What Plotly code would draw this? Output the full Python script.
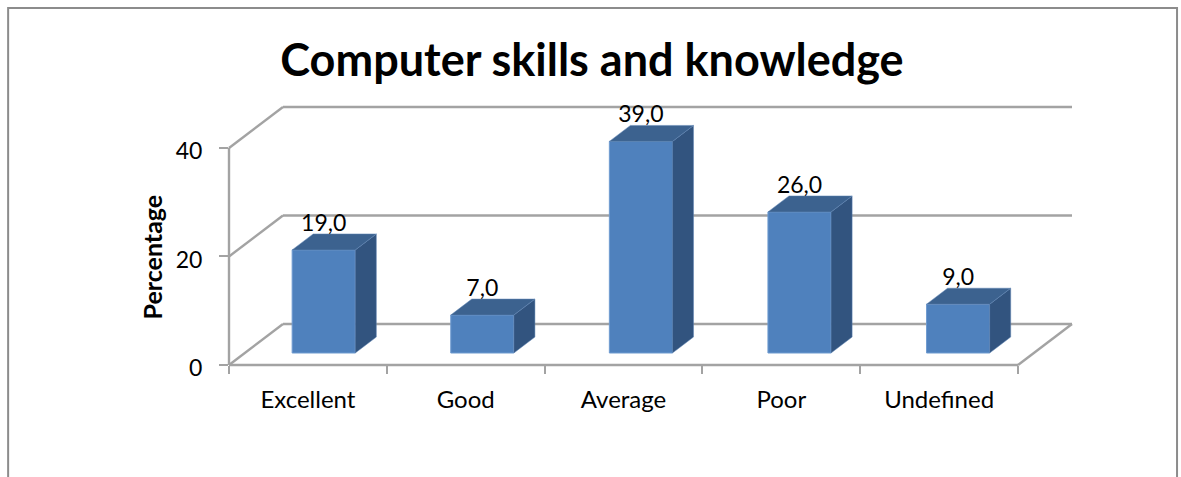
import plotly.graph_objects as go

categories = ["Excellent", "Good", "Average", "Poor", "Undefined"]
percentages = [19.0, 7.0, 39.0, 26.0, 9.0]
y_ticks = [0, 20, 40]
title_text = "Computer skills and knowledge"
y_title = "Percentage"

FONT = "Lato"
GREY = "#a3a3a3"
FRAME = "#8c8c8c"
FRONT = "#4f81bd"
SIDE = "#32547f"
TOP = "#3c628f"

# Oblique projection: depth of the floor in axis units
DEPTH_X = 0.342
DEPTH_Y = 7.55
BAR_WIDTH = 0.4
BAR_PITCH = 1.005   # bars are spaced very slightly wider than the ticks
BAR_START = 0.293   # where the front of a bar sits along the depth
BAR_DEPTH = 0.39    # how far the bar extends backwards

n = len(categories)
centers = [i + 0.5 for i in range(n)]
face_x = [0.5 + i * BAR_PITCH + BAR_START * DEPTH_X for i in range(n)]
base = BAR_START * DEPTH_Y
x_max = n + DEPTH_X
y_max = y_ticks[-1] + DEPTH_Y

fig = go.Figure()

# Front faces of the bars
fig.add_bar(
    x=face_x, y=percentages, base=[base] * n, width=BAR_WIDTH,
    marker=dict(color=FRONT, line=dict(color="#6f9bd0", width=1)),
    hoverinfo="skip",
)

# Side and top faces, projected from the same values
for fx, v in zip(face_x, percentages):
    left, right = fx - BAR_WIDTH / 2, fx + BAR_WIDTH / 2
    top = base + v
    ox, oy = BAR_DEPTH * DEPTH_X, BAR_DEPTH * DEPTH_Y
    fig.add_scatter(
        x=[right, right + ox, right + ox, right, right],
        y=[base, base + oy, top + oy, top, base],
        mode="lines", fill="toself", fillcolor=SIDE,
        line=dict(color="#5f85b5", width=0.5), hoverinfo="skip",
    )
    fig.add_scatter(
        x=[left, left + ox, right + ox, right, left],
        y=[top, top + oy, top + oy, top, top],
        mode="lines", fill="toself", fillcolor=TOP,
        line=dict(color="#5f85b5", width=0.5), hoverinfo="skip",
    )

# Value labels above each bar
fig.add_scatter(
    x=face_x,
    y=[base + v + 4.6 for v in percentages],
    mode="text",
    text=[f"{v:.1f}".replace(".", ",") for v in percentages],
    textposition="middle center",
    textfont=dict(family=FONT, size=23, color="#000000"),
    hoverinfo="skip", cliponaxis=False,
)


def box_line(x0, y0, x1, y1):
    """A line of the 3D box, in paper units so it is not clipped at the plot edge."""
    return dict(
        type="line", xref="paper", yref="paper", layer="below",
        x0=x0 / x_max, y0=y0 / y_max, x1=x1 / x_max, y1=y1 / y_max,
        line=dict(color=GREY, width=2.4),
    )


# Walls and floor of the 3D box, placed behind the bars
walls = [box_line(0, 0, 0, y_ticks[-1])]
for t in y_ticks:
    walls.append(box_line(0, t, DEPTH_X, t + DEPTH_Y))
    walls.append(box_line(DEPTH_X, t + DEPTH_Y, n + DEPTH_X, t + DEPTH_Y))
walls.append(box_line(0, 0, n, 0))
walls.append(box_line(n, 0, n + DEPTH_X, DEPTH_Y))

# Outer chart border, open at the bottom
frame = dict(
    type="path", xref="paper", yref="paper", layer="below",
    path="M -0.262 -0.5 L -0.262 1.384 L 1.1246 1.384 L 1.1246 -0.5",
    line=dict(color=FRAME, width=2),
)

fig.update_layout(
    width=1181, height=477,
    margin=dict(l=229, r=109, t=107, b=112),
    paper_bgcolor="white", plot_bgcolor="white",
    showlegend=False,
    shapes=walls + [frame],
    title=dict(
        text=f"<b>{title_text}</b>",
        font=dict(family=FONT, size=45, color="#000000"),
        x=592 / 1181, xanchor="center", y=1 - 60 / 477, yanchor="middle",
    ),
    xaxis=dict(
        range=[0, x_max],
        tickmode="array", tickvals=centers, ticktext=categories,
        ticks="", showgrid=False, zeroline=False, showline=False,
        ticklabelstandoff=18,
        tickfont=dict(family=FONT, size=24, color="#000000"),
        minor=dict(tickmode="array", tickvals=list(range(n + 1)),
                   ticks="outside", ticklen=8, tickwidth=2.4, tickcolor=GREY,
                   showgrid=False),
    ),
    yaxis=dict(
        range=[0, y_max],
        tickmode="array", tickvals=y_ticks, ticktext=[str(t) for t in y_ticks],
        ticks="outside", ticklen=9, tickwidth=2.4, tickcolor=GREY,
        showgrid=False, zeroline=False, showline=False,
        ticklabelstandoff=12, ticklabelshift=3,
        tickfont=dict(family=FONT, size=23, color="#000000"),
    ),
)
# Axis title sits lower than the axis midpoint, so it is placed on the value scale
fig.add_annotation(
    text=f"<b>{y_title}</b>", textangle=-90, showarrow=False,
    xref="paper", x=-0.0902, xanchor="center",
    yref="y", y=20, yanchor="middle",
    font=dict(family=FONT, size=25, color="#000000"),
)
fig.write_html("out.html")
